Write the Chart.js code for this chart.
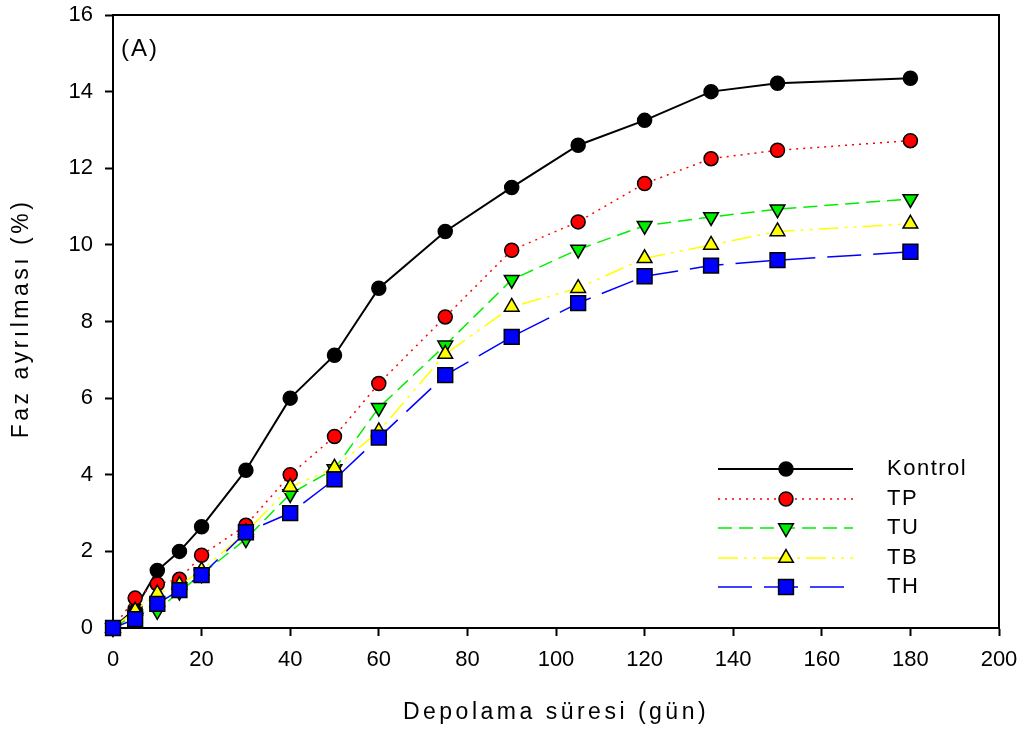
<!DOCTYPE html>
<html lang="tr">
<head>
<meta charset="utf-8">
<title>Faz ayrılması</title>
<script src="https://cdn.jsdelivr.net/npm/chart.js@4.4.1/dist/chart.umd.min.js"></script>
<style>
  html, body { margin: 0; padding: 0; background: #fff; }
  #chart { display: block; }
</style>
</head>
<body>
<canvas id="chart" width="1028" height="733"></canvas>
<script>
// storage days
const days = [0, 5, 10, 15, 20, 30, 40, 50, 60, 75, 90, 105, 120, 135, 150, 180];

// phase separation (%)
const kontrol = [0, 0.50, 1.50, 2.00, 2.64, 4.12, 6.00, 7.12, 8.87, 10.35, 11.50, 12.60, 13.25, 14.00, 14.22, 14.35];
const tp      = [0, 0.78, 1.15, 1.27, 1.90, 2.68, 4.00, 5.00, 6.38, 8.12, 9.86, 10.60, 11.60, 12.25, 12.47, 12.72];
const tu      = [0, 0.35, 0.45, 0.95, 1.40, 2.32, 3.50, 4.15, 5.75, 7.38, 9.09, 9.88, 10.50, 10.73, 10.93, 11.20];
const tb      = [0, 0.45, 0.90, 1.12, 1.50, 2.50, 3.68, 4.18, 5.13, 7.15, 8.38, 8.87, 9.65, 10.00, 10.35, 10.55];
const th      = [0, 0.23, 0.63, 0.99, 1.38, 2.50, 3.00, 3.88, 4.97, 6.60, 7.60, 8.48, 9.18, 9.46, 9.60, 9.82];

const seriesNames = ['Kontrol', 'TP', 'TU', 'TB', 'TH'];
const xTitle = 'Depolama süresi (gün)';
const yTitle = 'Faz ayrılması (%)';
const panelTag = '(A)';

const FONT = 'Arial, "Liberation Sans", Helvetica, sans-serif';

const styles = [
  { color: '#000000', dash: [],                  point: 'circle',   radius: 7,    rot: 0,   width: 2 },
  { color: '#ff0000', dash: [2, 5],              point: 'circle',   radius: 7,    rot: 0,   width: 1.5 },
  { color: '#00ee00', dash: [14, 7],             point: 'triangle', radius: 8.5,  rot: 180, width: 1.5 },
  { color: '#ffff00', dash: [20, 6, 3, 6, 3, 6], point: 'triangle', radius: 8.5,  rot: 0,   width: 1.5 },
  { color: '#0000ff', dash: [34, 12],            point: 'rect',     radius: 10.5, rot: 0,   width: 1.5 },
];

const values = [kontrol, tp, tu, tb, th];

const datasets = values.map((vals, i) => ({
  label: seriesNames[i],
  data: days.map((d, k) => ({ x: d, y: vals[k] })),
  borderColor: styles[i].color,
  borderWidth: styles[i].width,
  borderDash: styles[i].dash,
  pointStyle: styles[i].point,
  pointRotation: styles[i].rot,
  pointRadius: styles[i].radius,
  pointBackgroundColor: styles[i].color,
  pointBorderColor: '#000',
  pointBorderWidth: 1.5,
  tension: 0,
  clip: false,
  order: values.length - 1 - i,   // later series drawn on top
}));

// ---------- frame, axis titles, panel tag, legend ----------
const decorations = {
  id: 'decorations',
  afterDraw(chart) {
    const { ctx, chartArea: a } = chart;
    ctx.save();

    // top and right edges of the box
    ctx.strokeStyle = '#000';
    ctx.lineWidth = 2;
    ctx.setLineDash([]);
    ctx.beginPath();
    ctx.moveTo(a.left, a.top);
    ctx.lineTo(a.right, a.top);
    ctx.lineTo(a.right, a.bottom);
    ctx.stroke();

    ctx.fillStyle = '#000';
    ctx.textBaseline = 'middle';

    // x title
    ctx.font = `23px ${FONT}`;
    ctx.letterSpacing = '3.5px';
    ctx.textAlign = 'center';
    ctx.fillText(xTitle, (a.left + a.right) / 2, 713);

    // y title
    ctx.save();
    ctx.translate(22, (a.top + a.bottom) / 2 - 3);
    ctx.rotate(-Math.PI / 2);
    ctx.fillText(yTitle, 0, 0);
    ctx.restore();

    // panel tag
    ctx.font = `24px ${FONT}`;
    ctx.letterSpacing = '2px';
    ctx.textAlign = 'left';
    ctx.fillText(panelTag, a.left + 8, 49);

    // legend
    const lx0 = 718, lx1 = 853, mx = 786, tx = 887;
    const rowY = [469, 499, 528, 558, 587];
    ctx.font = `22px ${FONT}`;
    ctx.letterSpacing = '1.5px';
    chart.data.datasets.forEach((ds, i) => {
      const y = rowY[i];
      ctx.strokeStyle = ds.borderColor;
      ctx.lineWidth = ds.borderWidth;
      ctx.setLineDash(ds.borderDash);
      ctx.beginPath();
      ctx.moveTo(lx0, y);
      ctx.lineTo(lx1, y);
      ctx.stroke();

      ctx.setLineDash([]);
      ctx.fillStyle = ds.pointBackgroundColor;
      ctx.strokeStyle = ds.pointBorderColor;
      ctx.lineWidth = ds.pointBorderWidth;
      Chart.helpers.drawPoint(ctx, {
        pointStyle: ds.pointStyle,
        rotation: ds.pointRotation,
        radius: ds.pointRadius,
        borderWidth: ds.pointBorderWidth,
      }, mx, y);

      ctx.fillStyle = '#000';
      ctx.fillText(ds.label, tx, y);
    });

    ctx.restore();
  }
};

const axisCommon = {
  type: 'linear',
  grid: {
    drawOnChartArea: false,
    drawTicks: true,
    tickLength: 8,
    tickWidth: 2,
    tickColor: '#000',
  },
  border: { color: '#000', width: 2 },
  ticks: { color: '#000', font: { family: FONT, size: 22 } },
};

// fixed plot box: ignore label overhang when laying out
const noOverhang = s => { s.paddingTop = s.paddingBottom = s.paddingLeft = s.paddingRight = 0; };

new Chart(document.getElementById('chart'), {
  type: 'line',
  data: { datasets },
  options: {
    responsive: false,
    animation: false,
    events: [],
    layout: { padding: { top: 15, right: 29, left: 0, bottom: 0 } },
    plugins: { legend: { display: false }, tooltip: { enabled: false } },
    scales: {
      x: {
        ...axisCommon,
        min: 0, max: 200,
        ticks: { ...axisCommon.ticks, stepSize: 20, padding: 11, maxRotation: 0 },
        afterFit: s => { s.height = 105; noOverhang(s); },
      },
      y: {
        ...axisCommon,
        min: 0, max: 16,
        ticks: { ...axisCommon.ticks, stepSize: 2, padding: 12 },
        afterFit: s => { s.width = 113; noOverhang(s); },
      },
    },
  },
  plugins: [decorations],
});
</script>
</body>
</html>
